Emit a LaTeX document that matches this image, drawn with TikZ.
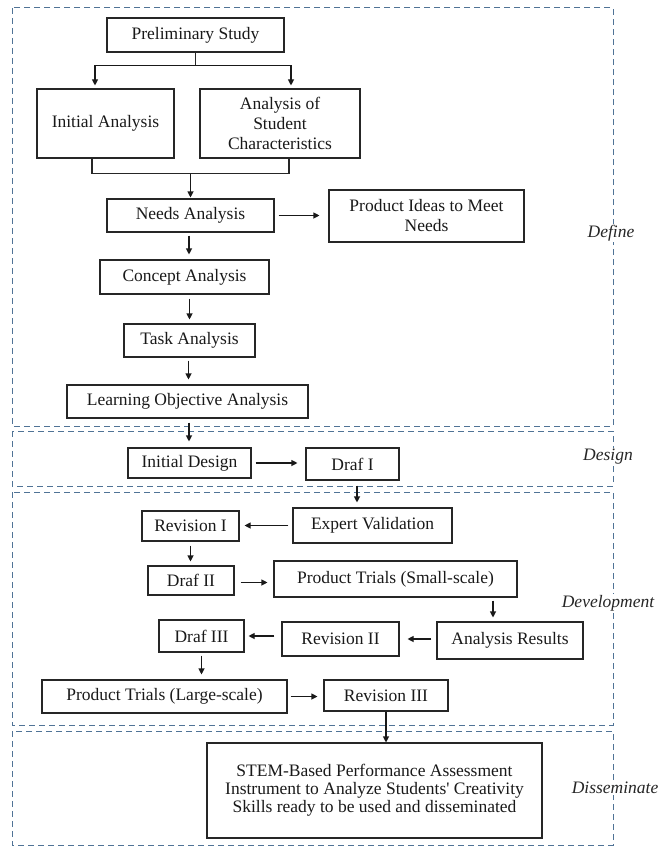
\documentclass[tikz,border=0pt]{standalone}
\usepackage{fontspec}
\setmainfont{Liberation Serif}
\usetikzlibrary{arrows.meta}
\definecolor{dashblue}{RGB}{80,115,150}
\begin{document}
\begin{tikzpicture}[x=1pt,y=-1pt,
  box/.style={draw=black!85, line width=1.1pt, inner sep=0pt, align=center,
    font=\fontsize{17.5}{20}\selectfont, text=black!90},
  arr/.style={-{Triangle[length=6pt,width=6pt]}, line width=1.1pt, draw=black!90},
  ln/.style={line width=1.1pt, draw=black!85},
  panel/.style={draw=dashblue, line width=1pt, dash pattern=on 6pt off 4pt},
  phase/.style={fill=white, inner sep=1pt, font=\fontsize{17.5}{20}\selectfont\itshape, text=black!85}]
\useasboundingbox (0,0) rectangle (658,848);
% panels
\draw[panel] (12,8) rectangle (613,426);
\draw[panel] (12,431) rectangle (613,486);
\draw[panel] (12,492) rectangle (613,725);
\draw[panel] (12,731) rectangle (613,845);
\node[phase] (lbdef) at (611,233) {Define};
\node[phase] (lbdes) at (608,457) {Design};
\node[phase] (lbdev) at (608,603) {Development};
\node[phase] (lbdis) at (615,788) {Disseminate};
% boxes
\node[box, minimum width=177pt, minimum height=34pt] (ps) at (195.5,35) {Preliminary Study};
\node[box, minimum width=137pt, minimum height=69pt] (ia) at (105.5,123.5) {Initial Analysis};
\node[box, minimum width=160pt, minimum height=69pt] (asc) at (280,123.5) {Analysis of\\Student\\Characteristics};
\node[box, minimum width=167pt, minimum height=33pt] (na) at (190.5,215.5) {Needs Analysis};
\node[box, minimum width=195pt, minimum height=52pt] (pi) at (426.5,216) {Product Ideas to Meet\\Needs};
\node[box, minimum width=169pt, minimum height=34pt] (ca) at (184.5,277) {Concept Analysis};
\node[box, minimum width=131pt, minimum height=33pt] (ta) at (189.5,340.5) {Task Analysis};
\node[box, minimum width=241pt, minimum height=33pt] (loa) at (187.5,401.5) {Learning Objective Analysis};
\node[box, minimum width=123pt, minimum height=30pt] (id) at (189.5,463) {Initial Design};
\node[box, minimum width=93pt, minimum height=32pt] (d1) at (352.5,464) {Draf I};
\node[box, minimum width=159pt, minimum height=35pt] (ev) at (372.5,525.5) {Expert Validation};
\node[box, minimum width=97pt, minimum height=30pt] (r1) at (190.5,526) {Revision I};
\node[box, minimum width=86pt, minimum height=29pt] (d2) at (191,580.5) {Draf II};
\node[box, minimum width=243pt, minimum height=36pt] (pts) at (395.5,579) {Product Trials (Small-scale)};
\node[box, minimum width=146pt, minimum height=37pt] (ar) at (510,640.5) {Analysis Results};
\node[box, minimum width=117pt, minimum height=34pt] (r2) at (340.5,639) {Revision II};
\node[box, minimum width=85pt, minimum height=32pt] (d3) at (201.5,636) {Draf III};
\node[box, minimum width=245pt, minimum height=33pt] (ptl) at (164.5,696.5) {Product Trials (Large-scale)};
\node[box, minimum width=124pt, minimum height=31pt] (r3) at (386,695.5) {Revision III};
\node[box, minimum width=335pt, minimum height=95pt, font=\fontsize{17.5}{18}\selectfont] (stem) at (374.5,790.5)
  {STEM-Based Performance Assessment\\Instrument to Analyze Students\textquotesingle{} Creativity\\Skills ready to be used and disseminated};
% connectors
\draw[ln] (ps.south) -- ++(0,13) coordinate (sp);
\draw[arr] (sp) -| ([xshift=-10.5pt,yshift=3pt]ia.north);
\draw[arr] (sp) -| ([xshift=11pt,yshift=3pt]asc.north);
\draw[ln] ([xshift=-13.5pt]ia.south) -- ++(0,15) coordinate (bl) -| ([xshift=9pt]asc.south);
\draw[arr, shorten >=1pt] (bl -| na.north) -- (na.north);
\draw[arr, shorten <=4pt, shorten >=9pt] (na.east) -- (na.east -| pi.west);
\draw[arr, shorten <=3pt, shorten >=5pt] ([xshift=-1.5pt]na.south) -- ([xshift=-1.5pt]na.south |- ca.north);
\draw[arr, shorten <=4pt, shorten >=4pt] (ta.north |- ca.south) -- (ta.north);
\draw[arr, shorten <=3pt, shorten >=5pt] ([xshift=-1pt]ta.south) -- ([xshift=-1pt]ta.south |- loa.north);
\draw[arr, shorten <=4pt, shorten >=6pt] ([xshift=1.5pt]loa.south) -- ([xshift=1.5pt]loa.south |- id.north);
\draw[arr, shorten <=4pt, shorten >=8pt] (id.east) -- (id.east -| d1.west);
\draw[arr, shorten <=5pt, shorten >=5pt] ([xshift=4.5pt]d1.south) -- ([xshift=4.5pt]d1.south |- ev.north);
\draw[arr, shorten <=4pt, shorten >=5pt] (ev.west) -- (ev.west -| r1.east);
\draw[arr, shorten <=4pt, shorten >=4pt] (r1.south) -- (r1.south |- d2.north);
\draw[arr, shorten <=6pt, shorten >=6pt] ([yshift=-2pt]d2.east) -- ([yshift=-2pt]d2.east -| pts.west);
\draw[arr, shorten <=3pt, shorten >=4pt] ([xshift=-17pt]ar.north |- pts.south) -- ([xshift=-17pt]ar.north);
\draw[arr, shorten <=5pt, shorten >=8pt] ([yshift=1.5pt]ar.west) -- ([yshift=1.5pt]ar.west -| r2.east);
\draw[arr, shorten <=7pt, shorten >=4pt] (r2.west |- d3.east) -- (d3.east);
\draw[arr, shorten <=3pt, shorten >=5pt] (d3.south) -- (d3.south |- ptl.north);
\draw[arr, shorten <=3pt, shorten >=6pt] (ptl.east) -- (ptl.east -| r3.west);
\draw[arr] (r3.south) -- (r3.south |- stem.north);
\end{tikzpicture}
\end{document}
